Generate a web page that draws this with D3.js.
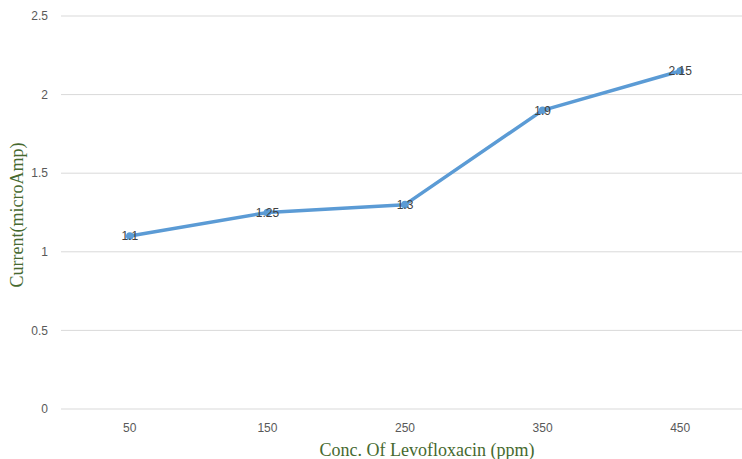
<!DOCTYPE html>
<html><head><meta charset="utf-8">
<script src="https://cdn.jsdelivr.net/npm/d3@7"></script>
<style>body{margin:0;background:#fff}</style>
</head><body>
<svg id="c" width="742" height="459"></svg>
<script>
const categories = ["50","150","250","350","450"];
const values = [1.1, 1.25, 1.3, 1.9, 2.15];
const yTicks = [0, 0.5, 1, 1.5, 2, 2.5];

const svg = d3.select("#c");
const x = d3.scaleBand().domain(categories).range([61, 749]);
const y = d3.scaleLinear().domain([0, 2.5]).range([409, 16]);

svg.append("g").selectAll("line").data(yTicks).join("line")
  .attr("x1", 61).attr("x2", 749)
  .attr("y1", d => y(d)).attr("y2", d => y(d))
  .attr("stroke", "#d9d9d9").attr("stroke-width", 1);

svg.append("g").selectAll("text").data(yTicks).join("text")
  .attr("x", 48).attr("y", d => y(d)).attr("dy", "0.35em")
  .attr("text-anchor", "end").attr("font-family", "Liberation Sans, Arial, sans-serif")
  .attr("font-size", 12).attr("fill", "#595959").text(d => d);

svg.append("g").selectAll("text").data(categories).join("text")
  .attr("x", d => x(d) + x.bandwidth()/2).attr("y", 432)
  .attr("text-anchor", "middle").attr("font-family", "Liberation Sans, Arial, sans-serif")
  .attr("font-size", 12).attr("fill", "#595959").text(d => d);

const cx = (d, i) => x(categories[i]) + x.bandwidth()/2;
const line = d3.line().x((d, i) => cx(d, i)).y(d => y(d));
svg.append("path").datum(values).attr("d", line)
  .attr("fill", "none").attr("stroke", "#5B9BD5").attr("stroke-width", 3.5)
  .attr("stroke-linejoin", "round").attr("stroke-linecap", "round");

svg.append("g").selectAll("circle").data(values).join("circle")
  .attr("cx", cx).attr("cy", d => y(d)).attr("r", 3.8).attr("fill", "#5B9BD5");

svg.append("g").selectAll("text").data(values).join("text")
  .attr("x", cx).attr("y", d => y(d)).attr("dy", "0.35em")
  .attr("text-anchor", "middle").attr("font-family", "Liberation Sans, Arial, sans-serif")
  .attr("font-size", 12).attr("fill", "#404040").text(d => d);

svg.append("text").attr("x", 427).attr("y", 456).attr("text-anchor", "middle")
  .attr("font-family", "Liberation Serif, Times New Roman, serif").attr("font-size", 18)
  .attr("fill", "#46692f").text("Conc. Of Levofloxacin (ppm)");

svg.append("text").attr("transform", "translate(23,215) rotate(-90)").attr("text-anchor", "middle")
  .attr("font-family", "Liberation Serif, Times New Roman, serif").attr("font-size", 18)
  .attr("fill", "#46692f").text("Current(microAmp)");
</script>
</body></html>
